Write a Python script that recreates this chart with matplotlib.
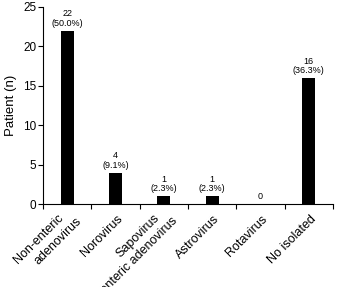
import numpy as np
import matplotlib.pyplot as plt

plt.rcParams['font.family'] = ['Liberation Sans', 'DejaVu Sans']

# ----------------------------------------------------------
# Data
# ----------------------------------------------------------
categories = [["Non-enteric", "adenovirus"], ["Norovirus"],
              ["Sapovirus", "+enteric adenovirus"], ["Astrovirus"],
              ["Rotavirus"], ["No isolated"]]
counts = [22, 4, 1, 1, 0, 16]
bar_labels = ["22\n(50.0%)", "4\n(9.1%)", "1\n(2.3%)", "1\n(2.3%)", "0", "16\n(36.3%)"]

# ----------------------------------------------------------
# Plot
# ----------------------------------------------------------
fig = plt.figure(figsize=(3.37, 2.87), dpi=100)
ax = fig.add_axes([0.128, 0.289, 0.86, 0.687])

x = np.arange(len(categories))
ax.bar(x, counts, width=0.27, color='black')

for xi, v, lab in zip(x, counts, bar_labels):
    ax.text(xi, v + 0.35, lab, ha='center', va='bottom', fontsize=6.5, linespacing=1.05)

ax.set_xlim(-0.5, len(categories) - 0.5)
ax.set_ylim(0, 25)
ax.set_yticks([0, 5, 10, 15, 20, 25])
ax.set_ylabel("Patient (n)", fontsize=9.5, labelpad=4)

ax.set_xticks(np.arange(len(categories) + 1) - 0.5)
ax.set_xticklabels([])
ax.tick_params(axis='x', length=3.5, width=0.8)
ax.tick_params(axis='y', length=3.5, width=0.8, labelsize=8.5, pad=1.5)

# rotated category labels; each line placed on its own (offsets in pixels)
px = 0.72
for xi, lines in zip(x, categories):
    if len(lines) == 1:
        offs = [(1, -9)]
    else:
        offs = [(-10, -8), (8, -11)]
    for line, (dx, dy) in zip(lines, offs):
        ax.annotate(line, xy=(xi, 0), xycoords=('data', 'axes fraction'),
                    xytext=(dx * px, dy * px), textcoords='offset points',
                    rotation=45, ha='right', va='top', rotation_mode='anchor',
                    fontsize=9, annotation_clip=False)

for side in ['top', 'right']:
    ax.spines[side].set_visible(False)
for side in ['left', 'bottom']:
    ax.spines[side].set_linewidth(0.8)

fig.savefig("out.png", dpi=100)
